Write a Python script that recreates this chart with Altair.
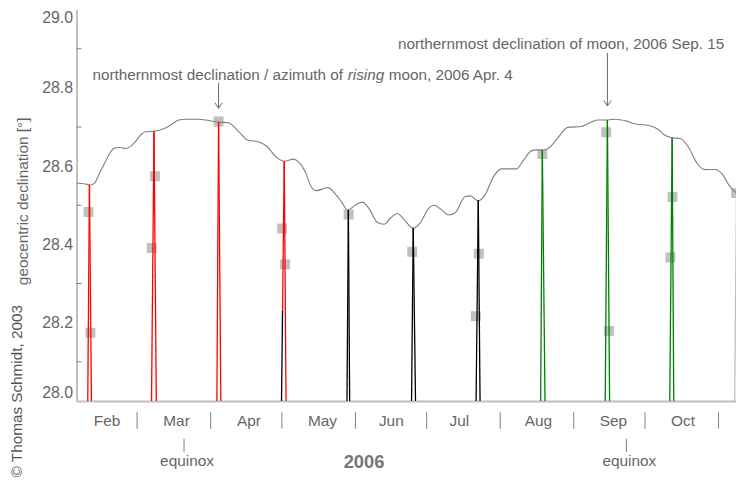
import altair as alt
import pandas as pd

FONT = "Liberation Sans"
TXT = "#666666"

# time axis: days since 2006-01-01 00:00
x_domain = [33.47, 311.36]

# envelope curve (gray)
curve_t = [33.47, 37.24, 39.33, 41.0, 43.10, 45.19, 47.28, 49.37, 51.47, 54.27, 56.36, 58.46,
           60.26, 62.64, 66.11, 68.92, 71.14, 73.77, 76.58, 79.38, 84.95, 89.13, 93.32, 97.50,
           101.69, 105.87, 110.06, 113.53, 117.72, 121.23, 124.71, 126.80, 129.60, 132.37, 134.46,
           139.35, 142.83, 145.21, 147.72, 151.20, 154.00, 156.81, 160.28, 163.08, 165.85, 168.65,
           171.45, 175.35, 178.40, 181.92, 184.01, 187.48, 190.29, 193.05, 197.23, 199.33, 202.84,
           205.60, 209.12, 212.59, 216.07, 218.87, 221.68, 225.15, 227.24, 229.75, 232.81, 236.32,
           240.51, 246.07, 249.55, 253.06, 257.25, 260.72, 264.91, 269.09, 274.66, 278.84, 280.94,
           284.45, 287.93, 291.40, 294.92, 298.39, 302.57, 305.38, 308.85, 311.65]
curve_decl = [28.557, 28.5545, 28.552, 28.556, 28.581, 28.606, 28.631, 28.646, 28.6475, 28.645, 28.651, 28.664,
              28.678, 28.688, 28.689, 28.693, 28.698, 28.7075, 28.718, 28.72, 28.72, 28.7165, 28.7125, 28.711,
              28.689, 28.666, 28.6625, 28.6515, 28.6225, 28.6125, 28.618, 28.612, 28.589, 28.5475, 28.5375,
              28.545, 28.5265, 28.508, 28.4875, 28.5015, 28.508, 28.4907, 28.4557, 28.4515, 28.468, 28.479,
              28.464, 28.4415, 28.4557, 28.493, 28.5, 28.4875, 28.475, 28.4807, 28.5225, 28.524, 28.5115,
              28.5265, 28.5725, 28.593, 28.593, 28.593, 28.614, 28.639, 28.6415, 28.6407, 28.6475, 28.6725,
              28.699, 28.7015, 28.71, 28.718, 28.718, 28.72, 28.7157, 28.7075, 28.704, 28.693, 28.681,
              28.6725, 28.6707, 28.6475, 28.6075, 28.591, 28.5915, 28.581, 28.5475, 28.531]

# monthly declination maxima: segments (start t, start decl, end t, end decl, group)
seg_t0 = [38.20, 38.91, 65.07, 66.11, 92.61, 93.32, 119.85, 120.28, 121.00, 147.43, 148.02,
          174.64, 175.35, 201.84, 202.76, 229.04, 229.75, 256.25, 257.17, 283.45, 284.45, 310.80, 311.57]
seg_d0 = [28.0, 28.5515, 28.0, 28.689, 28.0, 28.713, 28.0, 28.23, 28.6125, 28.0, 28.4875,
          28.0, 28.4415, 28.0, 28.5125, 28.0, 28.641, 28.0, 28.718, 28.0, 28.6725, 28.0, 28.531]
seg_t1 = [38.91, 39.75, 66.11, 67.08, 93.32, 94.28, 120.28, 121.00, 121.75, 148.02, 148.56,
          175.35, 176.31, 202.76, 203.51, 229.75, 230.88, 257.17, 258.09, 284.45, 285.13, 311.57, 312.30]
seg_d1 = [28.5515, 28.0, 28.689, 28.0, 28.713, 28.0, 28.23, 28.6125, 28.0, 28.4875, 28.0,
          28.4415, 28.0, 28.5125, 28.0, 28.641, 28.0, 28.718, 28.0, 28.6725, 28.0, 28.531, 28.0]
seg_group = ["red", "red", "red", "red", "red", "red", "black", "red", "red", "black", "black",
             "black", "black", "black", "black", "green", "green", "green", "green", "green", "green",
             "gray", "gray"]

# gray squares
sq_t = [38.49, 39.33, 65.15, 66.53, 93.32, 120.10, 121.36, 148.14, 174.93, 202.97, 201.71,
        229.75, 256.67, 257.80, 284.58, 283.74, 311.36]
sq_decl = [28.483, 28.174, 28.391, 28.574, 28.714, 28.4407, 28.349, 28.4765, 28.381, 28.376, 28.2165,
           28.631, 28.6865, 28.179, 28.521, 28.3665, 28.531]

# axis furniture
y_label_values = [28.0, 28.2, 28.4, 28.6, 28.8, 29.0]
y_minor_ticks = [28.1, 28.3, 28.5, 28.7, 28.9]
month_start_t = [59, 90, 120, 151, 181, 212, 243, 273, 304]
month_names = ["Feb", "Mar", "Apr", "May", "Jun", "Jul", "Aug", "Sep", "Oct"]
month_label_t = [46.32, 75.6, 106.1, 137.1, 166.1, 194.8, 228.1, 259.7, 289.0]
equinox_t = [78.77, 265.17]
arrow1_t = [93.32]
arrow2_t = [257.17]

df_curve = pd.DataFrame({"t": curve_t, "decl": curve_decl})
df_seg = pd.DataFrame({"t0": seg_t0, "d0": seg_d0, "t1": seg_t1, "d1": seg_d1, "g": seg_group})
df_sq = pd.DataFrame({"t": sq_t, "decl": sq_decl})
df_minor = pd.DataFrame({"v": y_minor_ticks})
df_ms = pd.DataFrame({"t": month_start_t})
df_ml = pd.DataFrame({"t": month_label_t, "name": month_names})
df_eq = pd.DataFrame({"t": equinox_t, "name": ["equinox"] * len(equinox_t)})
df_a1 = pd.DataFrame({"t": arrow1_t})
df_a2 = pd.DataFrame({"t": arrow2_t})
df_one = pd.DataFrame({"a": [0]})

xscale = alt.Scale(domain=x_domain, nice=False, zero=False)
yscale = alt.Scale(domain=[28.0, 29.0], nice=False, zero=False)
xaxis = alt.Axis(labels=False, ticks=False, grid=False, title=None,
                 domainColor="#c0c0c0", domainWidth=2)
yaxis = alt.Axis(values=y_label_values, format=".1f", ticks=False, tickSize=0, labelPadding=4,
                 labelFlush=True, labelFont=FONT, labelFontSize=16, labelColor=TXT,
                 domainColor="#808080", domainWidth=1, grid=False,
                 title="geocentric declination [°]", titleX=-49, titleY=192.5, titleAngle=270,
                 titleAlign="center", titleBaseline="alphabetic", titleFont=FONT,
                 titleFontSize=15.5, titleFontWeight="normal", titleColor=TXT)


def X(f):
    return alt.X(f, type="quantitative", scale=xscale, axis=xaxis)


def Y(f):
    return alt.Y(f, type="quantitative", scale=yscale, axis=yaxis)


squares = alt.Chart(df_sq).mark_square(size=100, color="#c0c0c0", opacity=1, clip=True).encode(
    x=X("t"), y=Y("decl"))

curve = alt.Chart(df_curve).mark_line(color="#7f7f7f", strokeWidth=1.1, interpolate="monotone",
                                      clip=True).encode(x=X("t"), y=Y("decl"))

spikes = alt.Chart(df_seg).mark_rule(strokeWidth=1.3, clip=True).encode(
    x=X("t0"), y=Y("d0"), x2="t1", y2="d1",
    color=alt.Color("g:N", scale=alt.Scale(domain=["red", "black", "green", "gray"],
                                           range=["#ff0000", "#000000", "#008000", "#c0c0c0"]),
                    legend=None))

minor = alt.Chart(df_minor).mark_rule(color="#808080", strokeWidth=1).encode(
    y=Y("v"), x=alt.value(0), x2=alt.value(5))

seps = alt.Chart(df_ms).mark_rule(color="#808080", strokeWidth=1).encode(
    x=X("t"), y=alt.value(405.3), y2=alt.value(422))

mlabels = alt.Chart(df_ml).mark_text(font=FONT, fontSize=15.5, color=TXT, align="center",
                                     baseline="alphabetic").encode(
    x=X("t"), y=alt.value(419.5), text="name:N")

eq_ticks = alt.Chart(df_eq).mark_rule(color="#808080", strokeWidth=1).encode(
    x=X("t"), y=alt.value(432), y2=alt.value(445.5))

eq_text = alt.Chart(df_eq).mark_text(font=FONT, fontSize=15.5, color=TXT, align="center",
                                     baseline="alphabetic", dx=3).encode(
    x=X("t"), y=alt.value(459.5), text="name:N")

year = alt.Chart(df_one).mark_text(font=FONT, fontSize=18.5, fontWeight="bold", color="#777777",
                                   align="center", baseline="alphabetic", text="2006").encode(
    x=alt.value(289.5), y=alt.value(461.3))

copyright_ = alt.Chart(df_one).mark_text(font=FONT, fontSize=15.4, color="#555555", align="center",
                                         baseline="alphabetic", angle=270,
                                         text="© Thomas Schmidt, 2003").encode(
    x=alt.value(-55.3), y=alt.value(384.2))

ann_style = dict(font=FONT, fontSize=15.4, color=TXT, align="left", baseline="alphabetic")
ann1a = alt.Chart(df_one).mark_text(text="northernmost declination / azimuth of", **ann_style).encode(
    x=alt.value(16), y=alt.value(70.5))
ann1b = alt.Chart(df_one).mark_text(text="rising", fontStyle="italic", **ann_style).encode(
    x=alt.value(273), y=alt.value(70.5))
ann1c = alt.Chart(df_one).mark_text(text="moon, 2006 Apr. 4", **ann_style).encode(
    x=alt.value(314.3), y=alt.value(70.5))
ann2 = alt.Chart(df_one).mark_text(text="northernmost declination of moon, 2006 Sep. 15", **ann_style).encode(
    x=alt.value(323.7), y=alt.value(39.5))

shaft1 = alt.Chart(df_a1).mark_rule(color="#666666", strokeWidth=1).encode(
    x=X("t"), y=alt.value(73.7), y2=alt.value(99.3))
head1 = alt.Chart(df_a1).mark_point(shape="M-1,-1.5L0,0L1,-1.5", size=55, filled=False,
                                    color="#666666", strokeWidth=1, opacity=1).encode(
    x=X("t"), y=alt.value(99.3))
shaft2 = alt.Chart(df_a2).mark_rule(color="#666666", strokeWidth=1).encode(
    x=X("t"), y=alt.value(43.7), y2=alt.value(97))
head2 = alt.Chart(df_a2).mark_point(shape="M-1,-1.5L0,0L1,-1.5", size=55, filled=False,
                                    color="#666666", strokeWidth=1, opacity=1).encode(
    x=X("t"), y=alt.value(97))

chart = alt.layer(
    squares, curve, spikes, minor, seps, mlabels, eq_ticks, eq_text, year, copyright_,
    ann1a, ann1b, ann1c, ann2, shaft1, head1, shaft2, head2
).properties(
    width=664, height=394,
    padding={"left": 69, "top": 0, "right": 0, "bottom": 80},
    autosize=alt.AutoSizeParams(type="none"),
    background="white",
).configure_view(stroke=None)

chart.save("out.html", embed_options={"renderer": "svg", "actions": False})
